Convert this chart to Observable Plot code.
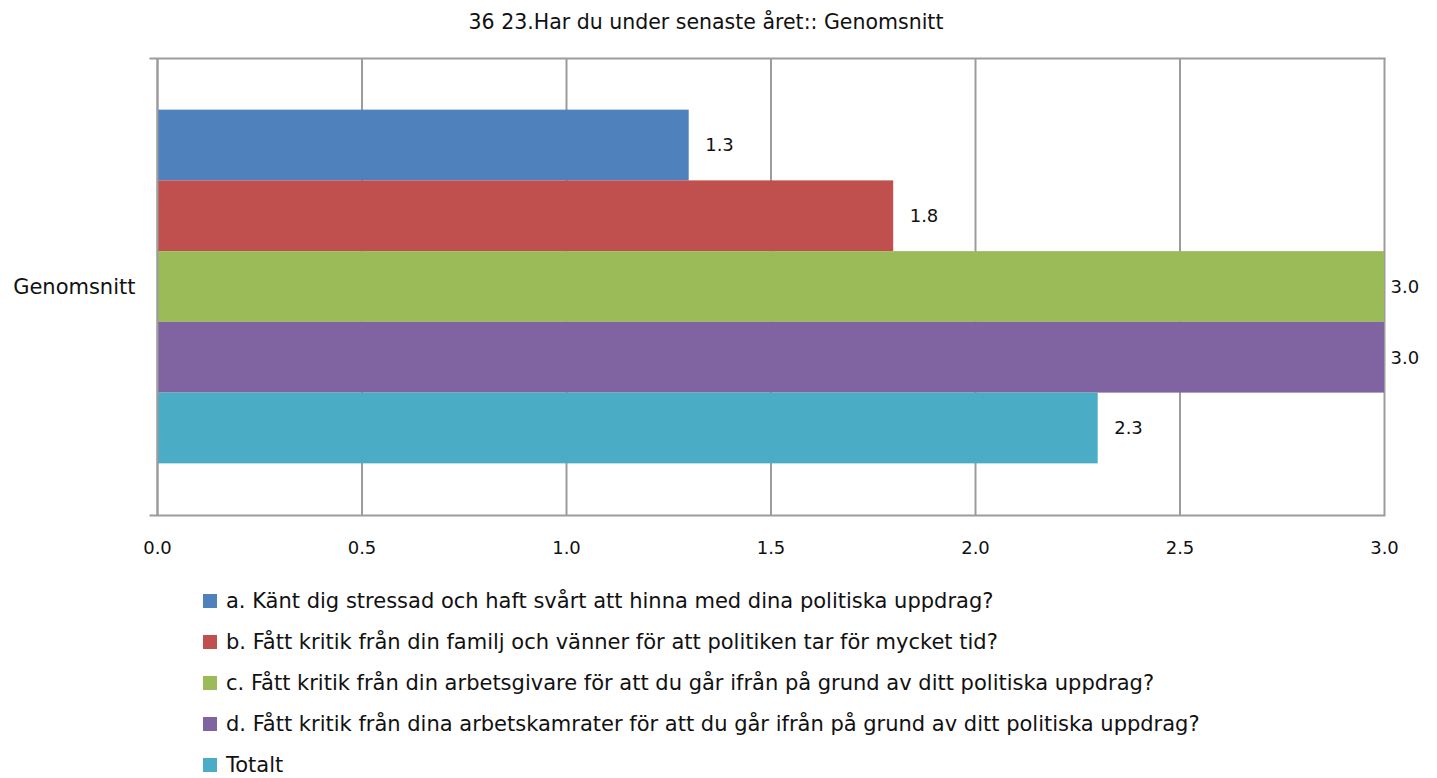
<!DOCTYPE html>
<html><head><meta charset="utf-8">
<script src="https://cdn.jsdelivr.net/npm/d3@7"></script>
<script src="https://cdn.jsdelivr.net/npm/@observablehq/plot@0.6"></script>
<style>
body{margin:0;background:#fff;font-family:"DejaVu Sans",sans-serif;color:#000;}
#wrap{position:relative;width:1437px;height:778px;overflow:hidden;}
#title{position:absolute;top:0;left:0;width:1412px;height:44px;line-height:44px;text-align:center;font-family:"DejaVu Sans",sans-serif;font-size:20.5px;color:#111;}
#chart{position:absolute;top:40px;left:0;}
#legend{position:absolute;top:580px;left:203px;}
.item{height:41px;display:flex;align-items:center;font-size:21px;white-space:nowrap;color:#111;}
.sw{width:14px;height:14px;margin-right:9px;flex:none;}
</style></head>
<body>
<div id="wrap">
  <div id="title"></div>
  <div id="chart"></div>
  <div id="legend"></div>
</div>
<script>
const titleText = "36 23.Har du under senaste året:: Genomsnitt";
const categories = ["Genomsnitt"];
const series = [
  "a. Känt dig stressad och haft svårt att hinna med dina politiska uppdrag?",
  "b. Fått kritik från din familj och vänner för att politiken tar för mycket tid?",
  "c. Fått kritik från din arbetsgivare för att du går ifrån på grund av ditt politiska uppdrag?",
  "d. Fått kritik från dina arbetskamrater för att du går ifrån på grund av ditt politiska uppdrag?",
  "Totalt"
];
const values = [1.3, 1.8, 3.0, 3.0, 2.3];
const colors = ["#4F81BD", "#C0504D", "#9BBB59", "#8064A2", "#4BACC6"];
const xTicks = [0, 0.5, 1.0, 1.5, 2.0, 2.5, 3.0];

const data = series.map((s, i) => ({category: categories[0], series: s, value: values[i]}));

document.getElementById("title").textContent = titleText;

const grid = "#9c9c9c";
const chart = Plot.plot({
  width: 1437, height: 540,
  marginTop: 18, marginBottom: 65, marginLeft: 157, marginRight: 53,
  style: {fontFamily: "DejaVu Sans, sans-serif", fontSize: "18px", color: "#111", background: "#fff"},
  x: {domain: [0, 3], ticks: xTicks, tickFormat: d3.format(".1f"), tickSize: 0, tickPadding: 26, label: null},
  y: {domain: series, paddingInner: 0, paddingOuter: 0.73, round: false, axis: null},
  color: {domain: series, range: colors},
  marks: [
    Plot.gridX(xTicks, {stroke: grid, strokeOpacity: 1, strokeWidth: 2}),
    Plot.frame({anchor: "top", stroke: grid, strokeWidth: 2, insetLeft: -7}),
    Plot.frame({anchor: "bottom", stroke: grid, strokeWidth: 2, insetLeft: -7}),
    Plot.barX(data, {x: "value", y: "series", fill: "series"}),
    Plot.ruleX([0], {stroke: grid, strokeWidth: 2}),
    Plot.text(data.filter(d => d.value < 3), {x: "value", y: "series", text: d => d.value.toFixed(1), dx: 16, textAnchor: "start", fill: "#111"}),
    Plot.text(data.filter(d => d.value >= 3), {x: "value", y: "series", text: d => d.value.toFixed(1), dx: 6, textAnchor: "start", fill: "#111"}),
    Plot.text(categories, {frameAnchor: "left", text: d => d, dx: -22, textAnchor: "end", fill: "#111", fontSize: 21})
  ]
});
document.getElementById("chart").appendChild(chart);

const legend = document.getElementById("legend");
series.forEach((s, i) => {
  const row = document.createElement("div");
  row.className = "item";
  const sw = document.createElement("span");
  sw.className = "sw";
  sw.style.background = colors[i];
  const t = document.createElement("span");
  t.textContent = s;
  row.appendChild(sw); row.appendChild(t);
  legend.appendChild(row);
});
</script>
</body></html>
